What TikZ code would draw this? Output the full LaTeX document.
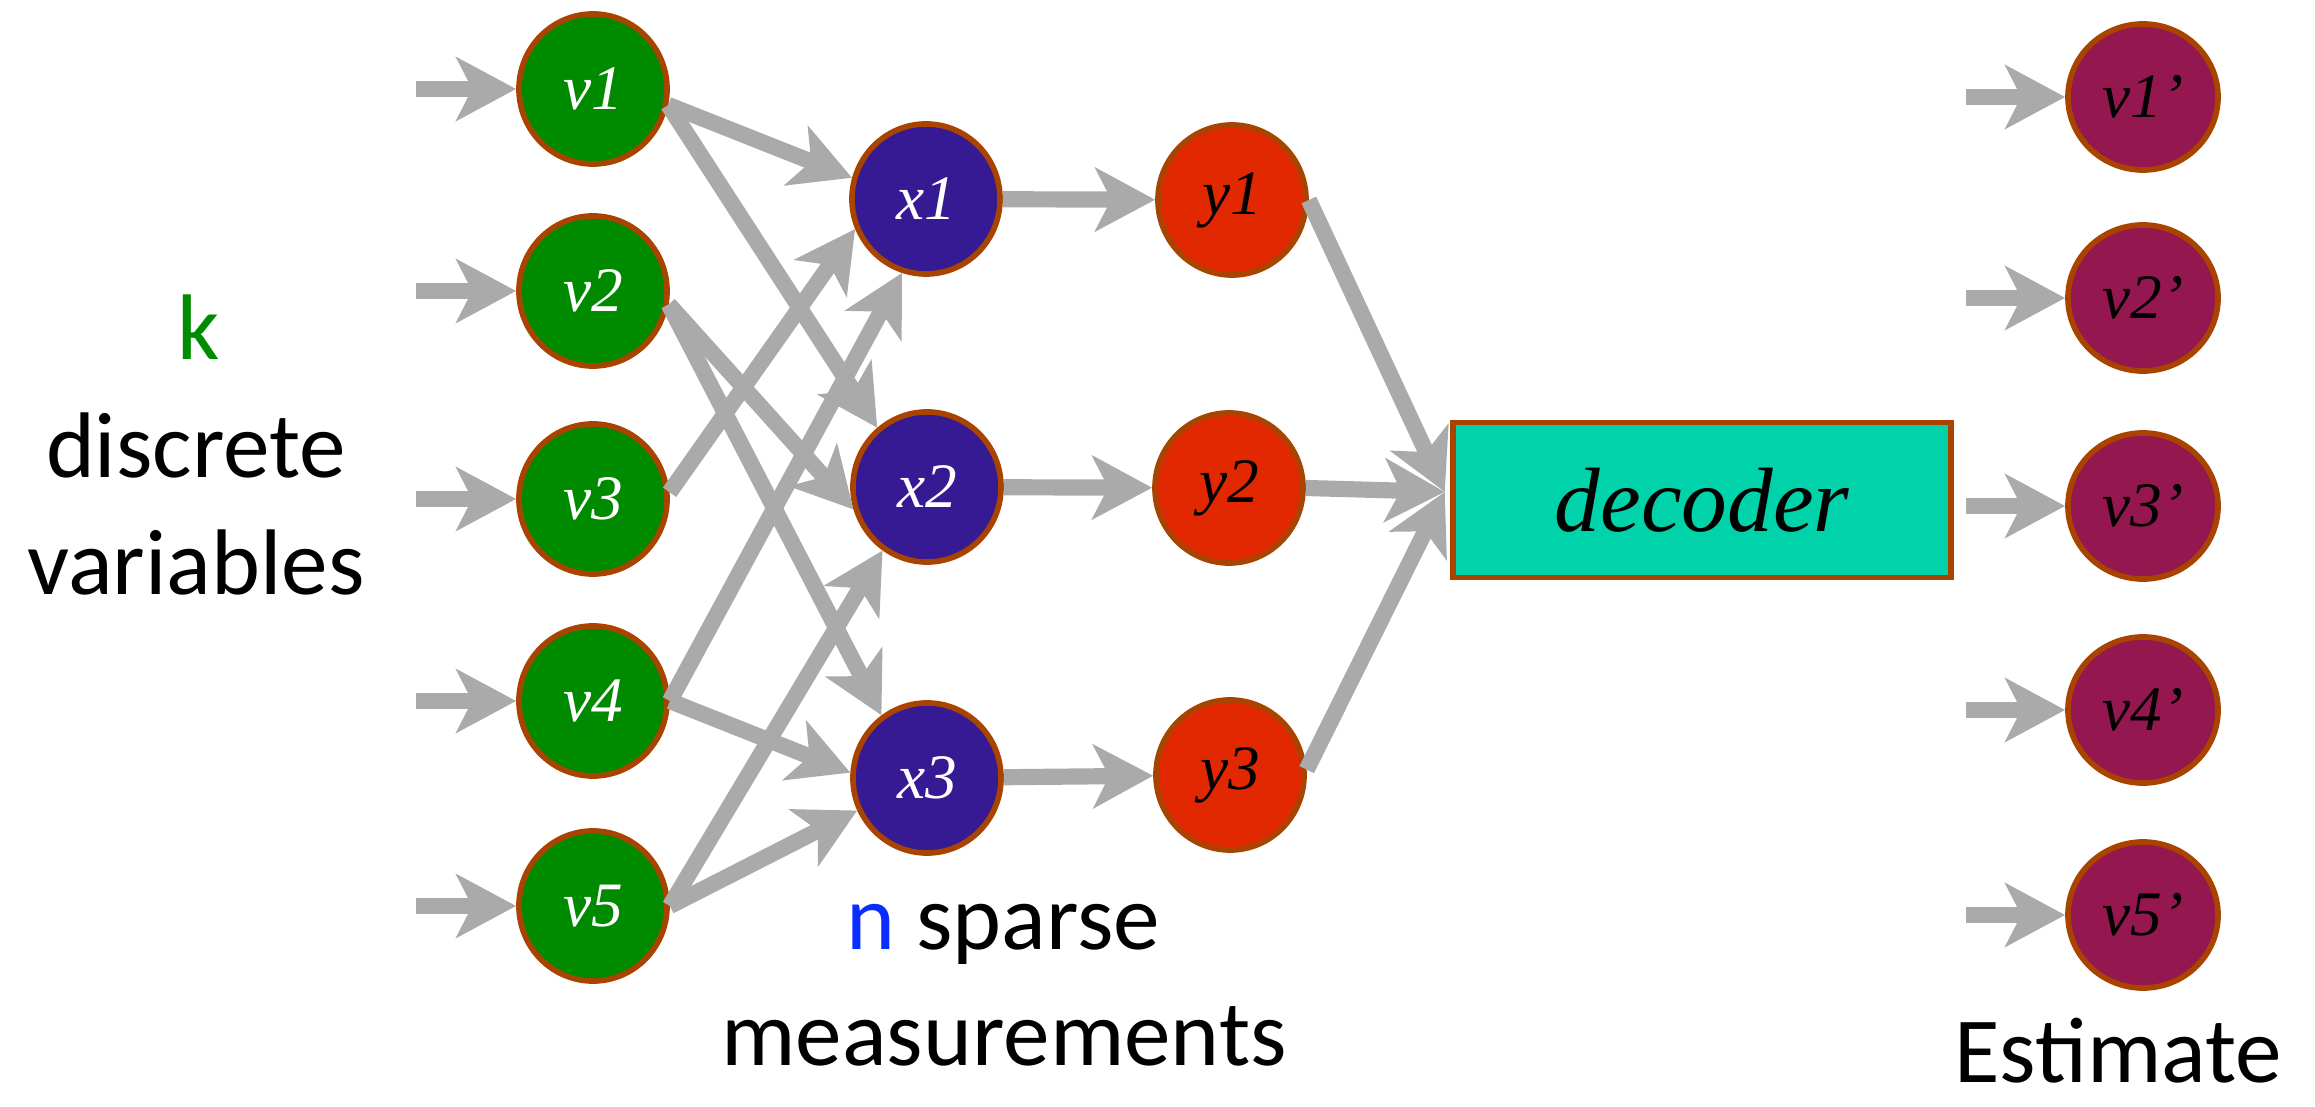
\documentclass[tikz,border=0pt]{standalone}
\usepackage{fontspec}
\setmainfont{Liberation Serif}
\newfontfamily\calfont{Carlito}
\usetikzlibrary{shapes.geometric,arrows.meta}
\definecolor{edgebrown}{RGB}{168,68,0}
\definecolor{vgreen}{RGB}{0,138,0}
\definecolor{xpurple}{RGB}{54,26,148}
\definecolor{yred}{RGB}{225,40,0}
\definecolor{decteal}{RGB}{0,210,170}
\definecolor{emag}{RGB}{148,23,79}
\definecolor{arrowgray}{RGB}{170,170,170}
\definecolor{kgreen}{RGB}{0,140,0}
\definecolor{nblue}{RGB}{10,45,255}
\begin{document}
\begin{tikzpicture}[x=0.01cm,y=-0.01cm,
  nodebase/.style={ellipse, draw=edgebrown, line width=1.6pt, inner sep=0pt,
    minimum width=1.48cm, minimum height=1.50cm,
    font=\fontsize{18}{20}\selectfont\itshape},
  vnode/.style={nodebase, fill=vgreen, text=white},
  xnode/.style={nodebase, fill=xpurple, text=white},
  ynode/.style={nodebase, fill=yred, text=black},
  enode/.style={nodebase, fill=emag, text=black, minimum width=1.50cm, minimum height=1.46cm},
  decbox/.style={rectangle, draw=edgebrown, line width=1.6pt, fill=decteal,
    minimum width=4.98cm, minimum height=1.55cm, inner sep=0pt,
    font=\fontsize{26}{30}\selectfont\itshape},
  arr/.style={draw=arrowgray, line width=4.6pt, -{Stealth[length=17pt,width=18pt,inset=4.5pt]}},
  lbl/.style={anchor=base, inner sep=0pt, font=\calfont\fontsize{26.5}{32}\selectfont}
]
\useasboundingbox (0,0) rectangle (2315,1107);

% input variables
\node[vnode] (v1) at (593,89) {v1};
\node[vnode] (v2) at (593,291) {v2};
\node[vnode] (v3) at (593,499) {v3};
\node[vnode] (v4) at (593,701) {v4};
\node[vnode] (v5) at (593,906) {v5};

% measurements
\node[xnode] (x1) at (926,199) {x1};
\node[xnode] (x2) at (927,487) {x2};
\node[xnode] (x3) at (927,778) {x3};

% outputs
\node[ynode] (y1) at (1232,200) {y1};
\node[ynode] (y2) at (1229,488) {y2};
\node[ynode] (y3) at (1230,775) {y3};

% decoder
\node[decbox] (dec) at (1702,500) {decoder};

% estimates
\node[enode] (e1) at (2143,97) {v1’};
\node[enode] (e2) at (2143,298) {v2’};
\node[enode] (e3) at (2143,506) {v3’};
\node[enode] (e4) at (2143,710) {v4’};
\node[enode] (e5) at (2143,915) {v5’};

% free ends of input arrows
\coordinate (i1) at (416,89);
\coordinate (i2) at (416,291);
\coordinate (i3) at (416,499);
\coordinate (i4) at (416,701);
\coordinate (i5) at (416,906);
\coordinate (o1) at (1966,97);
\coordinate (o2) at (1966,298);
\coordinate (o3) at (1966,506);
\coordinate (o4) at (1966,710);
\coordinate (o5) at (1966,915);

\foreach \n in {1,...,5} {
  \draw[arr] (i\n) -- (v\n);
  \draw[arr] (o\n) -- (e\n);
}

% v -> x
\draw[arr] (v1.-12) -- (x1.164);
\draw[arr] (v1.-12) -- (x2.130);
\draw[arr] (v2.-10) -- (x2.197);
\draw[arr] (v2.-10) -- (x3.126);
\draw[arr] (v3.5) -- (x1.203);
\draw[arr] (v4.0) -- (x1.252);
\draw[arr] (v4.0) -- (x3.176);
\draw[arr] (v5.0) -- (x2.235);
\draw[arr] (v5.0) -- (x3.205);

% x -> y
\draw[arr] (x1) -- (y1);
\draw[arr] (x2) -- (y2);
\draw[arr] (x3) -- (y3);

% y -> decoder
\coordinate (conv) at ([xshift=-1.5pt,yshift=2.3pt]dec.west);
\draw[arr] (y1.east) -- (conv);
\draw[arr] (y2.east) -- (conv);
\draw[arr] (y3.4) -- (conv);

% texts
\node[lbl, text=kgreen] (k) at (199,360) {k};
\node[lbl] (disc) at (196,478) {discrete};
\node[lbl] (vars) at (196,595) {variables};
\node[lbl] (nsp) at (1003,949) {{\color{nblue}n} sparse};
\node[lbl] (meas) at (1004,1065) {measurements};
\node[lbl] (est) at (2118,1082) {Estimate};
\end{tikzpicture}
\end{document}
